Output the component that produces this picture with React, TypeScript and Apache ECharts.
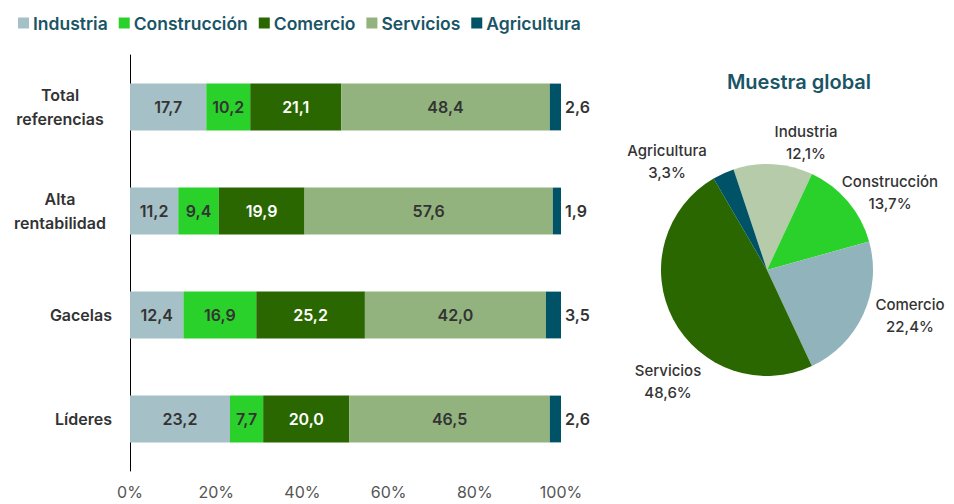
import React, { useEffect, useRef } from "react";
import * as echarts from "echarts";

const categories = ["Total\nreferencias", "Alta\nrentabilidad", "Gacelas", "Líderes"];
const seriesNames = ["Industria", "Construcción", "Comercio", "Servicios", "Agricultura"];
const industria = [17.7, 11.2, 12.4, 23.2];
const construccion = [10.2, 9.4, 16.9, 7.7];
const comercio = [21.1, 19.9, 25.2, 20.0];
const servicios = [48.4, 57.6, 42.0, 46.5];
const agricultura = [2.6, 1.9, 3.5, 2.6];
const xTicks = [0, 20, 40, 60, 80, 100];

const pieNames = ["Industria", "Construcción", "Comercio", "Servicios", "Agricultura"];
const pieValues = [12.1, 13.7, 22.4, 48.6, 3.3];

const barColors = ["#a5c0c6", "#2bd12b", "#2a6700", "#92b37e", "#005366"];
const barLabelColors = ["#333333", "#333333", "#ffffff", "#333333", "#333333"];
const pieColors = ["#b5cba9", "#2bd12b", "#91b3bb", "#2a6700", "#005366"];
const pieLabelPos: Record<string, [number, number]> = {
  Industria: [806, 142],
  "Construcción": [890, 192],
  Comercio: [910, 315],
  Servicios: [668, 381],
  Agricultura: [667, 161],
};

const FONT = "Inter, 'Noto Sans', sans-serif";
const fmt = (v: number) => v.toFixed(1).replace(".", ",");

export default function App() {
  const ref = useRef<HTMLDivElement>(null);
  useEffect(() => {
    document.body.style.margin = "0";
    if (!ref.current) return;
    const chart = echarts.init(ref.current, undefined, { renderer: "svg" });
    const barData = [industria, construccion, comercio, servicios, agricultura];
    chart.setOption({
      animation: false,
      textStyle: { fontFamily: FONT },
      legend: {
        left: 13,
        top: 9,
        itemWidth: 11,
        itemHeight: 11,
        itemGap: 11,
        icon: "rect",
        data: seriesNames,
        textStyle: { color: "#1a5566", fontSize: 17.5, fontWeight: 600, fontFamily: FONT, padding: [0, 0, 0, -1] },
      },
      title: {
        text: "Muestra global",
        left: 794,
        top: 67,
        textAlign: "center",
        textStyle: { color: "#1a5566", fontSize: 20, fontWeight: 600, fontFamily: FONT },
      },
      grid: { left: 130, right: 393, top: 55, bottom: 33 },
      xAxis: {
        type: "value",
        min: 0,
        max: 100,
        interval: 20,
        axisLine: { show: false },
        axisTick: { show: false },
        splitLine: { show: false },
        axisLabel: {
          margin: 13,
          color: "#555555",
          fontSize: 16,
          fontFamily: FONT,
          formatter: (v: number) => (xTicks.includes(v) ? v + "%" : ""),
        },
      },
      yAxis: {
        type: "category",
        inverse: true,
        data: categories,
        axisLine: { show: true, lineStyle: { color: "#000000", width: 1 } },
        axisTick: { show: false },
        axisLabel: {
          margin: 18,
          color: "#333333",
          fontSize: 16,
          fontWeight: 600,
          lineHeight: 24,
          fontFamily: FONT,
          formatter: (v: string) => (v.includes("\n") ? "{c|" + v.split("\n").join("}\n{c|") + "}" : v),
          rich: {
            c: { width: 104, align: "center", fontSize: 16, fontWeight: 600, color: "#333333", fontFamily: FONT, lineHeight: 24 },
          },
        },
      },
      series: [
        ...seriesNames.map((name, i) => ({
          type: "bar",
          name,
          stack: "total",
          barWidth: "45%",
          data: barData[i],
          itemStyle: { color: barColors[i] },
          label: {
            show: true,
            position: i === 4 ? "right" : "inside",
            distance: 4,
            color: barLabelColors[i],
            fontSize: 16,
            fontWeight: 600,
            fontFamily: FONT,
            formatter: (p: any) => fmt(p.value),
          },
        })),
        {
          type: "pie",
          center: [767, 270],
          radius: 106,
          startAngle: 108.4,
          clockwise: true,
          data: pieNames.map((n, i) => ({ name: n, value: pieValues[i], itemStyle: { color: pieColors[i] } })),
          label: {
            show: true,
            position: "outside",
            color: "#333333",
            fontSize: 15,
            fontWeight: 500,
            lineHeight: 22,
            align: "center",
            overflow: "none",
            width: 200,
            fontFamily: FONT,
            formatter: (p: any) => p.name + "\n" + fmt(p.value) + "%",
          },
          labelLine: { show: false },
          labelLayout: (p: any) => {
            const name = pieNames[p.dataIndex];
            const pos = pieLabelPos[name];
            return { x: pos[0], y: pos[1], align: "center", verticalAlign: "middle" };
          },
        },
      ],
    });
    return () => chart.dispose();
  }, []);
  return <div ref={ref} style={{ width: 954, height: 504 }} />;
}
